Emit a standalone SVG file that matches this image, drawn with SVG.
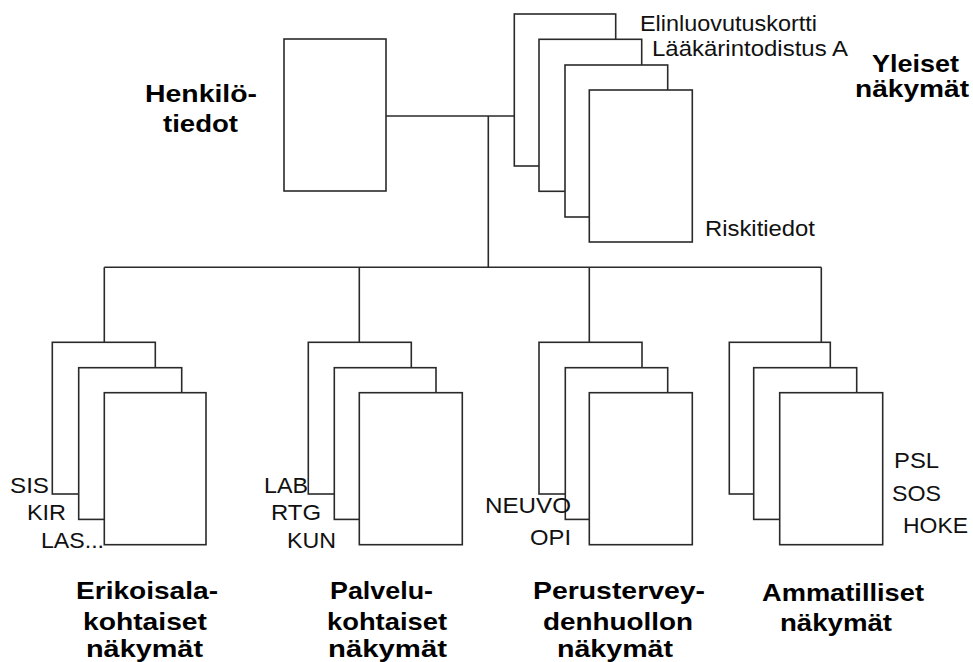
<svg xmlns="http://www.w3.org/2000/svg" width="973" height="662" viewBox="0 0 973 662">
<style>
.b{fill:#fff;stroke:#2a2a2a;stroke-width:1.6}
.c{fill:none;stroke:#2a2a2a;stroke-width:1.6}
.t{font-family:"Liberation Sans",Arial,sans-serif;font-size:22px;fill:#111}
.h{font-family:"Liberation Sans",Arial,sans-serif;font-size:24px;font-weight:bold;fill:#000}
</style>
<rect width="973" height="662" fill="#fff"/>
<g id="connectors">
<path class="c" d="M386,116H514M488.3,116V267.3M104.3,267.3H821.3M104.3,267.3V342.3M359.3,267.3V342.3M589.3,267.3V342.3M821.3,267.3V342.3"/>
</g>
<g id="henkilotiedot">
<rect class="b" x="284" y="39" width="102" height="152"/>
<text class="h" x="145" y="102" textLength="112" lengthAdjust="spacingAndGlyphs">Henkilö-</text>
<text class="h" x="163" y="132" textLength="75" lengthAdjust="spacingAndGlyphs">tiedot</text>
</g>
<g id="yleiset">
<rect class="b" x="514.3" y="14" width="101.4" height="152"/>
<rect class="b" x="539" y="39.3" width="102.7" height="152"/>
<rect class="b" x="565" y="65" width="102.7" height="152"/>
<rect class="b" x="589.3" y="90" width="103" height="152"/>
<text class="t" x="640" y="31" textLength="177" lengthAdjust="spacingAndGlyphs">Elinluovutuskortti</text>
<text class="t" x="652" y="56" textLength="196" lengthAdjust="spacingAndGlyphs">Lääkärintodistus A</text>
<text class="t" x="705" y="236" textLength="110" lengthAdjust="spacingAndGlyphs">Riskitiedot</text>
<text class="h" x="872" y="72" textLength="87" lengthAdjust="spacingAndGlyphs">Yleiset</text>
<text class="h" x="855" y="97" textLength="114" lengthAdjust="spacingAndGlyphs">näkymät</text>
</g>
<g id="erikoisala">
<rect class="b" x="52.3" y="342.3" width="103" height="151.7"/>
<rect class="b" x="78.7" y="367.7" width="103" height="151.7"/>
<rect class="b" x="104.3" y="392.7" width="101.7" height="152"/>
<text class="t" x="10" y="493" textLength="39" lengthAdjust="spacingAndGlyphs">SIS</text>
<text class="t" x="27" y="520" textLength="39" lengthAdjust="spacingAndGlyphs">KIR</text>
<text class="t" x="41" y="548" textLength="63" lengthAdjust="spacingAndGlyphs">LAS...</text>
<text class="h" x="76" y="599" textLength="142" lengthAdjust="spacingAndGlyphs">Erikoisala-</text>
<text class="h" x="83" y="630" textLength="124" lengthAdjust="spacingAndGlyphs">kohtaiset</text>
<text class="h" x="86" y="657" textLength="117" lengthAdjust="spacingAndGlyphs">näkymät</text>
</g>
<g id="palvelu">
<rect class="b" x="308.3" y="342.3" width="103" height="151.7"/>
<rect class="b" x="334.3" y="367.7" width="101.7" height="151.7"/>
<rect class="b" x="359.3" y="392.7" width="103" height="152"/>
<text class="t" x="264" y="493" textLength="44" lengthAdjust="spacingAndGlyphs">LAB</text>
<text class="t" x="271" y="520" textLength="50" lengthAdjust="spacingAndGlyphs">RTG</text>
<text class="t" x="287" y="548" textLength="49" lengthAdjust="spacingAndGlyphs">KUN</text>
<text class="h" x="330" y="599" textLength="103" lengthAdjust="spacingAndGlyphs">Palvelu-</text>
<text class="h" x="327" y="630" textLength="120" lengthAdjust="spacingAndGlyphs">kohtaiset</text>
<text class="h" x="328" y="657" textLength="119" lengthAdjust="spacingAndGlyphs">näkymät</text>
</g>
<g id="perusterveydenhuolto">
<rect class="b" x="539" y="342.3" width="103" height="151.7"/>
<rect class="b" x="565.3" y="367.7" width="102.4" height="151.7"/>
<rect class="b" x="589.3" y="392.7" width="103" height="152"/>
<text class="t" x="485" y="513" textLength="86" lengthAdjust="spacingAndGlyphs">NEUVO</text>
<text class="t" x="530" y="545" textLength="41" lengthAdjust="spacingAndGlyphs">OPI</text>
<text class="h" x="533" y="599" textLength="172" lengthAdjust="spacingAndGlyphs">Perustervey-</text>
<text class="h" x="543" y="630" textLength="150" lengthAdjust="spacingAndGlyphs">denhuollon</text>
<text class="h" x="557" y="657" textLength="116" lengthAdjust="spacingAndGlyphs">näkymät</text>
</g>
<g id="ammatilliset">
<rect class="b" x="729.3" y="342.3" width="101" height="151.7"/>
<rect class="b" x="753.7" y="367.7" width="103" height="151.7"/>
<rect class="b" x="779.7" y="392.7" width="103" height="152"/>
<text class="t" x="894" y="468" textLength="45" lengthAdjust="spacingAndGlyphs">PSL</text>
<text class="t" x="892" y="501" textLength="49" lengthAdjust="spacingAndGlyphs">SOS</text>
<text class="t" x="903" y="533" textLength="65" lengthAdjust="spacingAndGlyphs">HOKE</text>
<text class="h" x="762" y="601" textLength="162" lengthAdjust="spacingAndGlyphs">Ammatilliset</text>
<text class="h" x="780" y="631" textLength="112" lengthAdjust="spacingAndGlyphs">näkymät</text>
</g>
</svg>
